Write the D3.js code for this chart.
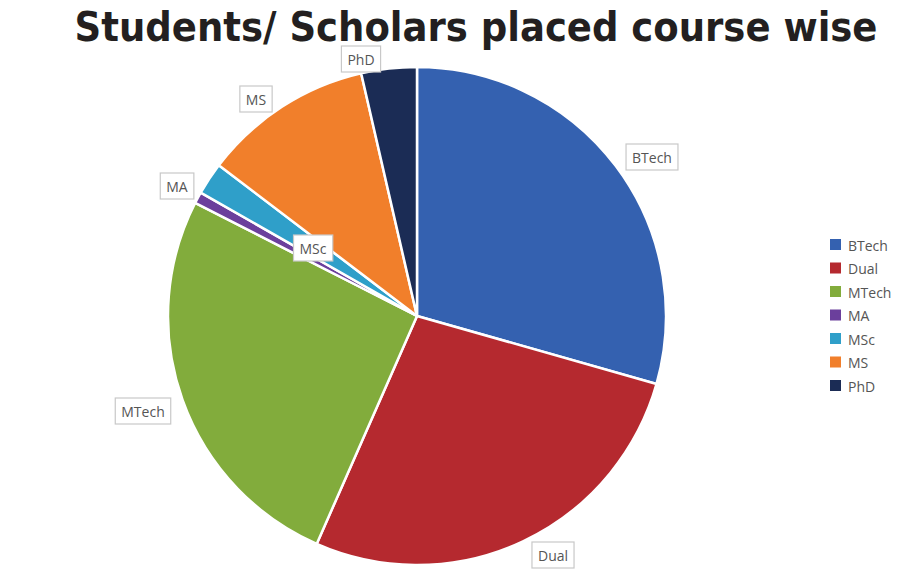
<!DOCTYPE html>
<html><head><meta charset="utf-8">
<script src="https://cdn.jsdelivr.net/npm/d3@7"></script>
<style>body{margin:0;background:#fff}svg{display:block}</style>
</head><body>
<svg id="c" width="907" height="583"></svg>
<script>
const categories = ["BTech","Dual","MTech","MA","MSc","MS","PhD"];
const values = [29.4, 27.2, 25.9, 0.75, 2.1, 11.05, 3.6];
const colors = ["#3461b0","#b5292f","#82ac3c","#6b3f9c","#2f9fc9","#f17f2b","#1b2c55"];
const labelPos = [[652,157],[553,555],[143,411],[177,186],[313,248],[256,99],[361,59]];
const title = "Students/ Scholars placed course wise";

const svg = d3.select("#c");
const cx = 417, cy = 316, r = 249;
const data = categories.map((c,i)=>({name:c,value:values[i],color:colors[i]}));
const pie = d3.pie().value(d=>d.value).sort(null);
const arc = d3.arc().innerRadius(0).outerRadius(r);
const g = svg.append("g").attr("transform",`translate(${cx},${cy})`);
g.selectAll("path").data(pie(data)).join("path")
  .attr("d",arc).attr("fill",d=>d.data.color)
  .attr("stroke","#fff").attr("stroke-width",2.5).attr("stroke-linejoin","round");

// data labels
const lab = svg.append("g");
data.forEach((d,i)=>{
  const t = lab.append("text").attr("x",labelPos[i][0]).attr("y",labelPos[i][1])
    .attr("text-anchor","middle").attr("dominant-baseline","central")
    .attr("font-family","'Open Sans', 'Noto Sans', sans-serif").attr("font-size",14)
    .attr("fill","#555").text(d.name);
  const b = t.node().getBBox();
  lab.insert("rect","text").attr("x",b.x-6).attr("y",labelPos[i][1]-13)
    .attr("width",b.width+12).attr("height",26)
    .attr("fill","#fff").attr("stroke","#c8c8c8").attr("stroke-width",1.2);
});

// legend
const lg = svg.append("g");
data.forEach((d,i)=>{
  const y = 245 + i*23.5;
  lg.append("rect").attr("x",830).attr("y",y-6).attr("width",11).attr("height",11).attr("fill",d.color);
  lg.append("text").attr("x",848).attr("y",y).attr("dominant-baseline","central")
    .attr("font-family","'Open Sans', 'Noto Sans', sans-serif").attr("font-size",14)
    .attr("fill","#555").text(d.name);
});

// title
svg.append("text").attr("x",476).attr("y",41).attr("text-anchor","middle")
  .attr("font-family","'Liberation Sans Narrow','DejaVu Sans Condensed','Roboto',sans-serif")
  .attr("font-weight","bold").attr("font-size",40).attr("fill","#231f20")
  .attr("textLength",803).attr("lengthAdjust","spacingAndGlyphs")
  .text(title);
</script>
</body></html>
